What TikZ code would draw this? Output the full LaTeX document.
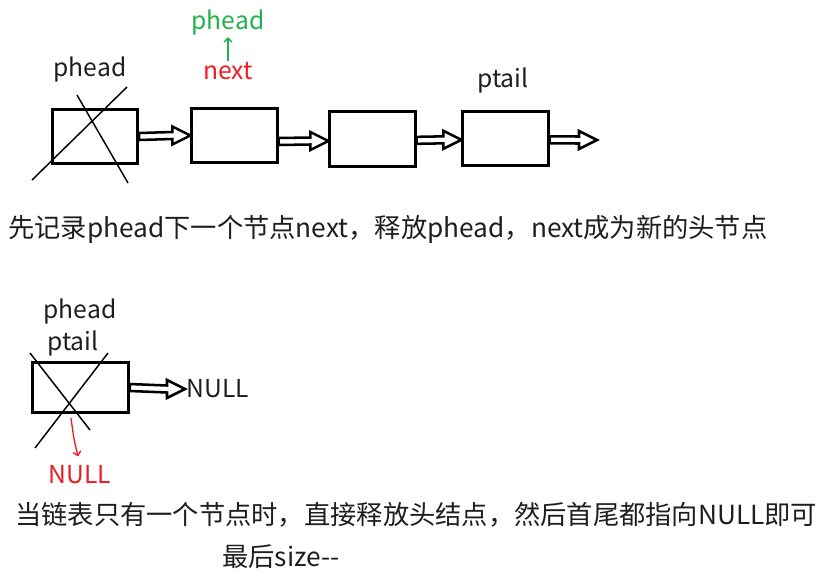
\documentclass[tikz,border=0pt]{standalone}
\usepackage{fontspec}
\setmainfont{Noto Sans CJK SC}
\usetikzlibrary{calc,arrows.meta,positioning}
\definecolor{nextred}{RGB}{237,28,36}
\definecolor{headgreen}{RGB}{34,177,76}
\definecolor{txtgray}{RGB}{30,30,30}

\begin{document}
\begin{tikzpicture}[x=0.75pt,y=-0.75pt]

\tikzset{box/.style = {draw, line width=2.2pt, inner sep=0pt, minimum width=64pt, minimum height=41pt}}
\tikzset{label/.style = {text=txtgray, inner sep=1pt, font=\fontsize{18.5}{22}\selectfont}}
\tikzset{caption/.style = {text=txtgray, inner sep=0pt, anchor=west, font=\fontsize{19.7}{23}\selectfont}}
\tikzset{cross/.style = {line width=1.1pt}}
\tikzset{hollow/.style = {draw, line width=1.9pt, line join=miter, to path={
  ($(\tikztostart)+(0,-3.5)$) -- ($(\tikztotarget)+(-18,-3.5)$) -- ($(\tikztotarget)+(-18,-9)$)
  -- (\tikztotarget) -- ($(\tikztotarget)+(-18,9)$) -- ($(\tikztotarget)+(-18,3.5)$)
  -- ($(\tikztostart)+(0,3.5)$) -- cycle}}}

\useasboundingbox (0,0) rectangle (834,579);

% first list
\node[box] (b1) at (95,136.5) {};
\node[box] (b2) at (234.5,135.5) {};
\node[box] (b3) at (372.5,139) {};
\node[box] (b4) at (505.5,138.5) {};
\coordinate (end) at (597,140);

\node[label] (h1) at (90,70) {phead};
\node[label, text=nextred] (nx) at (228,71) {next};
\node[label, text=headgreen] (h2) at (228,23) {phead};
\node[label] (t1) at (503,81) {ptail};

% edges
\draw[hollow] (b1.east) to (b2.west);
\draw[hollow] ([yshift=-4.5pt]b2.east) to ([yshift=-1.5pt]b3.west);
\draw[hollow] ([yshift=-1pt]b3.east) to ([yshift=-1pt]b4.west);
\draw[hollow] ([yshift=-1pt]b4.east) to (end);
\draw[->, headgreen, line width=1pt, >={Straight Barb[length=3pt]}] (nx.north) -- (h2.south);

% crossed out
\draw[cross] (32,180) -- (127,87);
\draw[cross] (77,95) -- (128,183);

\node[caption] (c1) at (8,229) {先记录phead下一个节点next，释放phead，next成为新的头节点};

% single node
\node[box, minimum width=72pt, minimum height=38pt] (b5) at (80.5,387.5) {};
\node[label] (h3) at (80,311) {phead};
\node[label] (t3) at (73,343) {ptail};
\node[label, anchor=west] (n1) at (185,389) {NULL};
\node[label, text=nextred] (n2) at (80,475) {NULL};
\coordinate (dn) at (71,418);

\draw[hollow] (b5.east) to (n1.west);
\draw[cross] (30,353) -- (90,430);
\draw[cross] (108,353) -- (35,448);
\draw[->, nextred, line width=1pt, shorten >=6pt, >={Straight Barb[length=3pt]}] (dn) .. controls (74,440) .. (n2.north);

\node[caption] (c2) at (15,515) {当链表只有一个节点时，直接释放头结点，然后首尾都指向NULL即可};
\node[caption] (c3) at (222,557) {最后size-{}-};

\end{tikzpicture}
\end{document}
